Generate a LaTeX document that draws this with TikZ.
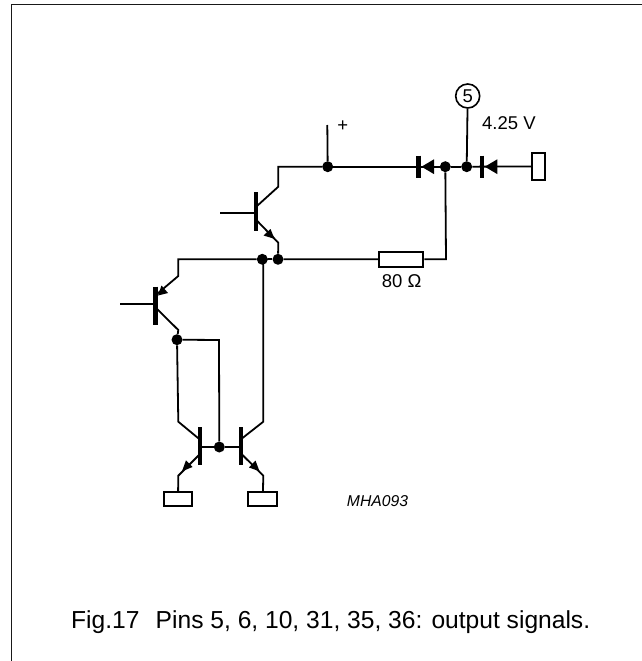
\documentclass[tikz,border=0pt]{standalone}
\usepackage{fontspec}
\setmainfont{Liberation Sans}
\tikzset{
 x=1pt,y=-1pt,
 wire/.style={line width=1.8pt,line join=miter},
 bar/.style={line width=4.6pt},
 frameline/.style={line width=1.9pt,black!90},
 dot/.style={circle,fill=black,inner sep=0pt,minimum size=11pt},
 tip/.style={fill=black,draw=none},
 lbl/.style={inner sep=0pt,font=\fontsize{18.5pt}{20pt}\selectfont},
 box/.style={draw,line width=1.8pt,fill=white,inner sep=0pt},
}
\begin{document}
\begin{tikzpicture}
\useasboundingbox (0,0) rectangle (642,661);
\fill[white] (0,0) rectangle (642,661);
% frame
\coordinate (fa) at (11.5,661); \coordinate (fb) at (11.5,4.5); \coordinate (fc) at (642,4.5);
\draw[frameline] (fa) -- (fb) -- (fc);
% junctions
\node[dot] (plus) at (327.7,166.7) {};
\node[dot] (j1) at (445.3,166.7) {};
\node[dot] (j2) at (466.7,166.7) {};
\node[dot] (j3) at (262.3,259.3) {};
\node[dot] (j4) at (278,259.3) {};
\node[dot] (j5) at (177,339.7) {};
\node[dot] (j6) at (219.3,447) {};
% boxes
\node[box,minimum width=12.7pt,minimum height=27.3pt] (out) at (538.7,166.4) {};
\node[box,minimum width=44.3pt,minimum height=15pt] (r) at (401.2,259.2) {};
\node[box,minimum width=28.6pt,minimum height=14.3pt] (p1) at (178,498.9) {};
\node[box,minimum width=29pt,minimum height=14.3pt] (p2) at (262.8,498.9) {};
\node[draw,circle,line width=1.6pt,minimum size=24pt,inner sep=0pt,font=\fontsize{18.5pt}{20pt}\selectfont] (pin5) at (467.7,96) {5};
% free ends
\coordinate (vp) at (327.3,125);
\coordinate (b1) at (220,213.3);
\coordinate (b2) at (120,304);
% upper transistor
\draw[bar] (256,192.3) -- (256,230.7);
\draw[wire] (b1) -- (256,213.3);
\draw[wire] (plus) -- (vp);
\draw[wire] (257,206) -- (278.3,186.7) -- (278.3,166.7) -- (plus);
\draw[wire] (257,220.7) -- (278.3,242.7) -- (j4);
\fill[tip] (274.5,238.8) -- (270.5,229) -- (263.5,235.5) -- cycle;
% main lines
\draw[wire] (plus) -- (j1) -- (j2);
\draw[wire] (j2) -- (out);
\draw[wire] (j2) -- (pin5);
\draw[wire] (j1) -- (446,259.3) -- (r);
\draw[wire] (j4) -- (r);
\draw[wire] (j3) -- (j4);
% diodes
\draw[bar] (418.7,155.7) -- (418.7,177.7);
\fill[tip] (421.5,166.7) -- (434,159.3) -- (434,174.1) -- cycle;
\draw[bar] (482,155.7) -- (482,177.7);
\fill[tip] (484.8,166.7) -- (497.3,159.3) -- (497.3,174.1) -- cycle;
% second transistor
\draw[wire] (j3) -- (178.3,259.3) -- (178.3,276) -- (157,294);
\draw[bar] (155.7,286.7) -- (155.7,325);
\draw[wire] (b2) -- (155.7,304);
\draw[wire] (157,309) -- (178.3,330) -- (j5);
\fill[tip] (158,295.5) -- (161.5,285.5) -- (168,293) -- cycle;
% lower transistors
\draw[wire] (j5) -- (178.3,421.7) -- (199,438.8);
\draw[wire] (j5) -- (219,340) -- (j6);
\draw[wire] (j3) -- (263.3,259.3) -- (263.3,421.7) -- (241.5,438.8);
\draw[bar] (200,427.3) -- (200,465);
\draw[bar] (241,427.3) -- (241,465);
\draw[wire] (200,447) -- (j6) -- (241,447);
\draw[wire] (199,455) -- (178.3,475.7) -- (p1);
\draw[wire] (242.5,455) -- (263.3,475.7) -- (p2);
\fill[tip] (182,471.3) -- (192.5,467) -- (186,460.3) -- cycle;
\fill[tip] (259.5,471.3) -- (255.5,460.5) -- (249,467.5) -- cycle;
% labels
\node[lbl] (lplus) at (342.7,125.7) {+};
\node[lbl,anchor=west] (lv) at (482,123) {4.25 V};
\node[lbl] (lr) at (401.7,280.7) {80 Ω};
\node[inner sep=0pt,font=\fontsize{15.7pt}{17pt}\selectfont\itshape] (code) at (377.5,501) {MHA093};
\node[inner sep=0pt,anchor=west,font=\fontsize{24.6pt}{27pt}\selectfont] (caption) at (71,622) {Fig.17\hspace{.38em} Pins 5, 6, 10, 31, 35, 36: output signals.};
\end{tikzpicture}
\end{document}
